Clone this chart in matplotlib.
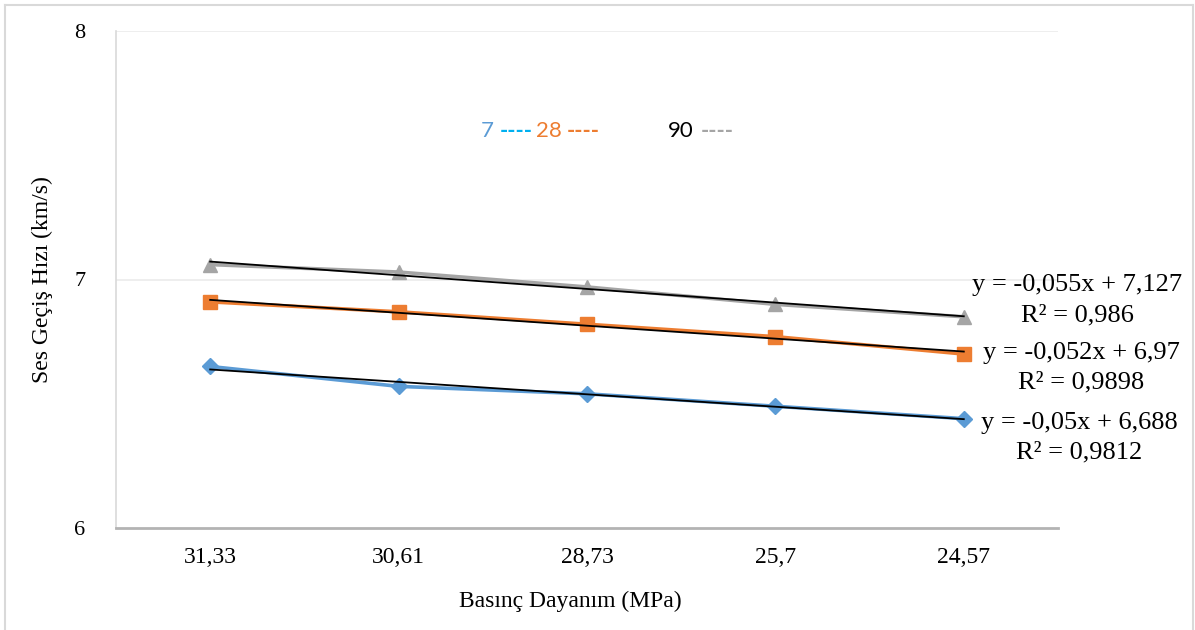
import matplotlib
matplotlib.use("Agg")
import matplotlib.pyplot as plt
from matplotlib.lines import Line2D
import numpy as np

categories = ["31,33", "30,61", "28,73", "25,7", "24,57"]
series_names = ["7", "28", "90"]
s7 = [6.65, 6.57, 6.54, 6.49, 6.44]
s28 = [6.91, 6.87, 6.82, 6.77, 6.70]
s90 = [7.06, 7.03, 6.97, 6.90, 6.85]
slopes = [-0.05, -0.052, -0.055]
intercepts = [6.688, 6.97, 7.127]
eq_labels = ["y = -0,05x + 6,688", "y = -0,052x + 6,97", "y = -0,055x + 7,127"]
r2_labels = ["R² = 0,9812", "R² = 0,9898", "R² = 0,986"]
y_ticks = [6, 7, 8]

W, H = 1195, 630
fig = plt.figure(figsize=(W / 100, H / 100), dpi=100)
serif = "Liberation Serif"

def fx(px):
    return px / W

def fy(py):
    return 1 - py / H

# outer frame
for xs, ys in [([5, 5], [5, 640]), ([5, 1193], [5, 5]), ([1193, 1193], [5, 640])]:
    fig.add_artist(Line2D([fx(x) for x in xs], [fy(y) for y in ys], color="#d9d9d9", lw=1.5))

ax = fig.add_axes([fx(116), fy(528), fx(1058) - fx(116), fy(31) - fy(528)])
x = np.arange(len(categories))

colors = ["#5b9bd5", "#ed7d31", "#a5a5a5"]
markers = ["D", "s", "^"]
msizes = [8, 10, 10]
data = [s7, s28, s90]
for vals, c, m, ms in zip(data, colors, markers, msizes):
    ax.plot(x, vals, color=c, lw=2.6, marker=m, markersize=ms, zorder=3)

for a, b in zip(slopes, intercepts):
    ax.plot(x, [a * (i + 1) + b for i in range(len(x))], color="black", lw=1.3, zorder=4)

ax.set_xlim(-0.5, len(categories) - 0.5)
ax.set_ylim(6, 8)
ax.set_yticks(y_ticks)
ax.set_yticklabels([str(v) for v in y_ticks], fontfamily=serif, fontsize=16)
ax.set_xticks(x)
ax.set_xticklabels(categories, fontfamily=serif, fontsize=17)
ax.tick_params(length=0)
ax.tick_params(axis="y", pad=22)
ax.tick_params(axis="x", pad=14)
for v in y_ticks[1:]:
    ax.axhline(v, color="#ebebeb", lw=1.2, zorder=0)
ax.spines["top"].set_visible(False)
ax.spines["right"].set_visible(False)
ax.spines["left"].set_color("#d9d9d9")
ax.spines["left"].set_linewidth(1.2)
ax.spines["bottom"].set_color("#b3b3b3")
ax.spines["bottom"].set_linewidth(2)

fig.text(fx(570), fy(601), "Basınç Dayanım (MPa)", fontfamily=serif, fontsize=17, ha="center", va="center")
fig.text(fx(42), fy(280), "Ses Geçiş Hızı (km/s)", fontfamily=serif, fontsize=17, ha="center", va="center", rotation=90)

# trendline labels
eq_pos = [(1079, 423, 452), (1081, 353, 382), (1077, 285, 315)]
for (cx, ey, ry), eq, r2 in zip(eq_pos, eq_labels, r2_labels):
    fig.text(fx(cx), fy(ey), eq, fontfamily=serif, fontsize=19, ha="center", va="center")
    fig.text(fx(cx), fy(ry), r2, fontfamily=serif, fontsize=19, ha="center", va="center")

# legend-like text
sans = "Lato"
leg = [(487, "7", "#5b9bd5"), (516, "----", "#00b0f0"), (549, "28", "#ed7d31"),
       (583, "----", "#ed7d31"), (681, "90", "black"), (717, "----", "#a5a5a5")]
for px, t, c in leg:
    fig.text(fx(px), fy(131), t, fontfamily=sans, fontsize=16, color=c, ha="center", va="center",
             fontweight="bold" if t == "----" else "normal")

fig.savefig("out.png", dpi=100)
